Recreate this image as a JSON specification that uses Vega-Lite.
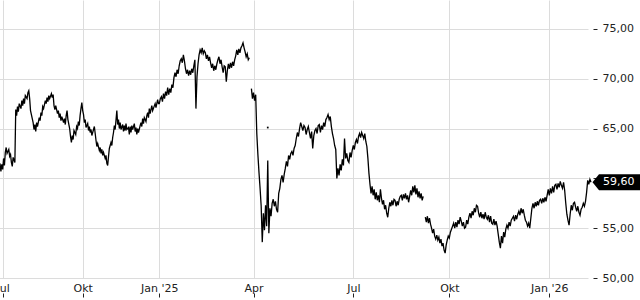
{
  "$schema": "https://vega.github.io/schema/vega-lite/v6.json",
  "width": 588,
  "height": 278,
  "autosize": {"type": "none"},
  "padding": {"left": 0, "top": 0, "right": 52, "bottom": 22},
  "background": "#ffffff",
  "config": {"view": {"stroke": null}},
  "datasets": {
    "p": [
      {"d":"2024-06-28","v":61.5},{"d":"2024-06-29","v":60.7},{"d":"2024-06-30","v":61.4},
      {"d":"2024-07-01","v":60.9},{"d":"2024-07-02","v":62.0},{"d":"2024-07-03","v":61.3},{"d":"2024-07-04","v":62.6},{"d":"2024-07-05","v":63.1},{"d":"2024-07-06","v":62.5},
      {"d":"2024-07-08","v":62.9},{"d":"2024-07-09","v":62.2},{"d":"2024-07-10","v":62.4},{"d":"2024-07-11","v":61.6},{"d":"2024-07-12","v":61.2},{"d":"2024-07-13","v":62.1},
      {"d":"2024-07-15","v":61.6},{"d":"2024-07-16","v":66.9},{"d":"2024-07-17","v":66.3},{"d":"2024-07-18","v":67.2},{"d":"2024-07-19","v":66.7},{"d":"2024-07-20","v":67.5},
      {"d":"2024-07-22","v":67.0},{"d":"2024-07-23","v":67.8},{"d":"2024-07-24","v":67.3},{"d":"2024-07-25","v":68.0},{"d":"2024-07-26","v":67.5},{"d":"2024-07-27","v":68.3},
      {"d":"2024-07-29","v":68.0},{"d":"2024-07-30","v":68.6},{"d":"2024-07-31","v":68.8},{"d":"2024-08-01","v":68.0},{"d":"2024-08-02","v":66.8},{"d":"2024-08-03","v":66.4},
      {"d":"2024-08-05","v":65.6},{"d":"2024-08-06","v":64.9},{"d":"2024-08-07","v":65.4},{"d":"2024-08-08","v":64.7},{"d":"2024-08-09","v":65.6},{"d":"2024-08-10","v":65.2},
      {"d":"2024-08-12","v":66.1},{"d":"2024-08-13","v":65.8},{"d":"2024-08-14","v":66.6},{"d":"2024-08-15","v":66.3},{"d":"2024-08-16","v":67.2},{"d":"2024-08-17","v":67.0},
      {"d":"2024-08-19","v":67.8},{"d":"2024-08-20","v":67.5},{"d":"2024-08-21","v":68.1},{"d":"2024-08-22","v":67.7},{"d":"2024-08-23","v":68.3},{"d":"2024-08-24","v":68.0},
      {"d":"2024-08-26","v":68.5},{"d":"2024-08-27","v":68.1},{"d":"2024-08-28","v":68.4},{"d":"2024-08-29","v":67.3},{"d":"2024-08-30","v":66.9},{"d":"2024-08-31","v":67.3},
      {"d":"2024-09-02","v":66.5},{"d":"2024-09-03","v":66.8},{"d":"2024-09-04","v":66.1},{"d":"2024-09-05","v":66.5},{"d":"2024-09-06","v":65.8},{"d":"2024-09-07","v":66.2},
      {"d":"2024-09-09","v":65.6},{"d":"2024-09-10","v":66.0},{"d":"2024-09-11","v":65.4},{"d":"2024-09-12","v":66.3},{"d":"2024-09-13","v":66.8},{"d":"2024-09-14","v":65.9},
      {"d":"2024-09-16","v":65.0},{"d":"2024-09-17","v":64.2},{"d":"2024-09-18","v":63.6},{"d":"2024-09-19","v":64.3},{"d":"2024-09-20","v":63.9},{"d":"2024-09-21","v":64.8},
      {"d":"2024-09-23","v":64.4},{"d":"2024-09-24","v":65.2},{"d":"2024-09-25","v":65.0},{"d":"2024-09-26","v":65.7},{"d":"2024-09-27","v":65.3},{"d":"2024-09-28","v":66.3},
      {"d":"2024-09-29","v":67.0},{"d":"2024-09-30","v":67.6},
      {"d":"2024-10-01","v":66.8},{"d":"2024-10-02","v":66.4},{"d":"2024-10-03","v":65.6},{"d":"2024-10-04","v":65.9},{"d":"2024-10-05","v":65.1},
      {"d":"2024-10-07","v":65.5},{"d":"2024-10-08","v":64.8},{"d":"2024-10-09","v":65.2},{"d":"2024-10-10","v":64.6},{"d":"2024-10-11","v":64.9},{"d":"2024-10-12","v":64.3},
      {"d":"2024-10-14","v":64.9},{"d":"2024-10-15","v":65.2},{"d":"2024-10-16","v":64.5},{"d":"2024-10-17","v":63.8},{"d":"2024-10-18","v":63.2},{"d":"2024-10-19","v":63.5},
      {"d":"2024-10-21","v":62.8},{"d":"2024-10-22","v":63.1},{"d":"2024-10-23","v":62.5},{"d":"2024-10-24","v":62.9},{"d":"2024-10-25","v":62.3},{"d":"2024-10-26","v":62.6},
      {"d":"2024-10-28","v":62.0},{"d":"2024-10-29","v":62.3},{"d":"2024-10-30","v":61.5},{"d":"2024-10-31","v":61.3},{"d":"2024-11-01","v":62.2},{"d":"2024-11-02","v":63.0},
      {"d":"2024-11-04","v":63.6},{"d":"2024-11-05","v":63.3},{"d":"2024-11-06","v":64.1},{"d":"2024-11-07","v":64.6},{"d":"2024-11-08","v":65.3},{"d":"2024-11-09","v":64.9},
      {"d":"2024-11-11","v":66.8},{"d":"2024-11-12","v":65.4},{"d":"2024-11-13","v":65.9},{"d":"2024-11-14","v":65.0},{"d":"2024-11-15","v":65.6},{"d":"2024-11-16","v":64.9},
      {"d":"2024-11-18","v":65.4},{"d":"2024-11-19","v":64.7},{"d":"2024-11-20","v":65.3},{"d":"2024-11-21","v":64.8},{"d":"2024-11-22","v":65.5},{"d":"2024-11-23","v":64.9},
      {"d":"2024-11-25","v":65.1},{"d":"2024-11-26","v":64.4},{"d":"2024-11-27","v":65.2},{"d":"2024-11-28","v":64.6},{"d":"2024-11-29","v":65.3},{"d":"2024-11-30","v":64.9},
      {"d":"2024-12-02","v":65.5},{"d":"2024-12-03","v":64.7},{"d":"2024-12-04","v":65.1},{"d":"2024-12-05","v":64.4},{"d":"2024-12-06","v":65.0},{"d":"2024-12-07","v":64.6},
      {"d":"2024-12-09","v":65.3},{"d":"2024-12-10","v":65.6},{"d":"2024-12-11","v":65.2},{"d":"2024-12-12","v":66.0},{"d":"2024-12-13","v":65.5},{"d":"2024-12-14","v":66.1},
      {"d":"2024-12-16","v":65.7},{"d":"2024-12-17","v":66.3},{"d":"2024-12-18","v":66.6},{"d":"2024-12-19","v":66.1},{"d":"2024-12-20","v":67.0},{"d":"2024-12-21","v":66.5},
      {"d":"2024-12-23","v":67.3},{"d":"2024-12-24","v":66.8},{"d":"2024-12-27","v":67.5},{"d":"2024-12-28","v":67.1},{"d":"2024-12-30","v":67.9},{"d":"2024-12-31","v":67.5},
      {"d":"2025-01-01","v":67.5},{"d":"2025-01-02","v":68.0},{"d":"2025-01-03","v":68.2},{"d":"2025-01-04","v":67.7},{"d":"2025-01-05","v":68.5},{"d":"2025-01-06","v":68.0},
      {"d":"2025-01-07","v":68.7},{"d":"2025-01-08","v":68.3},{"d":"2025-01-09","v":69.1},{"d":"2025-01-10","v":68.4},{"d":"2025-01-11","v":69.0},{"d":"2025-01-12","v":68.6},
      {"d":"2025-01-13","v":69.4},{"d":"2025-01-14","v":69.1},{"d":"2025-01-15","v":70.1},{"d":"2025-01-16","v":70.6},{"d":"2025-01-17","v":70.2},{"d":"2025-01-18","v":70.9},
      {"d":"2025-01-19","v":70.5},{"d":"2025-01-20","v":71.3},{"d":"2025-01-21","v":71.8},{"d":"2025-01-22","v":72.0},{"d":"2025-01-23","v":71.6},{"d":"2025-01-24","v":72.4},
      {"d":"2025-01-25","v":71.8},{"d":"2025-01-26","v":71.0},{"d":"2025-01-27","v":70.5},{"d":"2025-01-28","v":70.9},{"d":"2025-01-29","v":70.3},{"d":"2025-01-30","v":70.8},
      {"d":"2025-01-31","v":70.4},{"d":"2025-02-01","v":71.0},{"d":"2025-02-02","v":70.6},{"d":"2025-02-03","v":71.3},{"d":"2025-02-04","v":71.9},{"d":"2025-02-05","v":67.0},
      {"d":"2025-02-06","v":70.2},{"d":"2025-02-07","v":71.5},{"d":"2025-02-08","v":72.4},{"d":"2025-02-09","v":72.9},{"d":"2025-02-10","v":72.6},{"d":"2025-02-11","v":73.1},
      {"d":"2025-02-12","v":72.5},{"d":"2025-02-13","v":72.8},{"d":"2025-02-14","v":72.6},{"d":"2025-02-15","v":72.0},{"d":"2025-02-16","v":72.4},{"d":"2025-02-17","v":71.8},
      {"d":"2025-02-18","v":72.2},{"d":"2025-02-19","v":71.6},{"d":"2025-02-20","v":71.1},{"d":"2025-02-21","v":71.5},{"d":"2025-02-22","v":70.8},{"d":"2025-02-23","v":71.3},
      {"d":"2025-02-24","v":70.9},{"d":"2025-02-25","v":71.5},{"d":"2025-02-26","v":71.9},{"d":"2025-02-27","v":72.2},{"d":"2025-02-28","v":71.5},{"d":"2025-03-01","v":71.9},
      {"d":"2025-03-02","v":71.2},{"d":"2025-03-03","v":70.6},{"d":"2025-03-04","v":71.3},{"d":"2025-03-05","v":71.2},{"d":"2025-03-06","v":69.7},{"d":"2025-03-07","v":70.8},
      {"d":"2025-03-08","v":71.5},{"d":"2025-03-09","v":71.0},{"d":"2025-03-10","v":71.6},{"d":"2025-03-11","v":71.1},{"d":"2025-03-12","v":71.7},{"d":"2025-03-13","v":71.3},
      {"d":"2025-03-14","v":71.9},{"d":"2025-03-15","v":72.3},{"d":"2025-03-16","v":72.9},{"d":"2025-03-17","v":72.4},{"d":"2025-03-18","v":73.0},{"d":"2025-03-19","v":72.6},
      {"d":"2025-03-20","v":73.1},{"d":"2025-03-21","v":73.3},{"d":"2025-03-22","v":73.6},{"d":"2025-03-23","v":73.1},{"d":"2025-03-24","v":72.7},{"d":"2025-03-25","v":72.2},
      {"d":"2025-03-26","v":72.5},{"d":"2025-03-27","v":71.9},{"d":"2025-03-28","v":72.1},{"d":"2025-03-29","v":null},{"d":"2025-03-30","v":69.0},{"d":"2025-03-31","v":68.0},
      {"d":"2025-04-01","v":68.6},{"d":"2025-04-02","v":67.8},{"d":"2025-04-03","v":68.4},{"d":"2025-04-04","v":64.5},{"d":"2025-04-05","v":62.4},{"d":"2025-04-06","v":60.6},
      {"d":"2025-04-07","v":59.0},{"d":"2025-04-08","v":57.2},{"d":"2025-04-09","v":53.6},{"d":"2025-04-10","v":56.5},{"d":"2025-04-11","v":54.8},{"d":"2025-04-12","v":57.3},
      {"d":"2025-04-13","v":55.2},{"d":"2025-04-14","v":61.8},{"d":"2025-04-15","v":54.5},{"d":"2025-04-16","v":57.0},{"d":"2025-04-17","v":56.2},{"d":"2025-04-18","v":57.5},
      {"d":"2025-04-19","v":57.9},{"d":"2025-04-20","v":57.2},{"d":"2025-04-21","v":57.7},{"d":"2025-04-22","v":56.9},{"d":"2025-04-23","v":56.6},{"d":"2025-04-24","v":58.5},
      {"d":"2025-04-25","v":59.0},{"d":"2025-04-26","v":59.9},{"d":"2025-04-27","v":60.3},{"d":"2025-04-28","v":59.6},{"d":"2025-04-29","v":60.4},{"d":"2025-04-30","v":61.0},
      {"d":"2025-05-01","v":61.7},{"d":"2025-05-02","v":61.2},{"d":"2025-05-03","v":62.3},{"d":"2025-05-04","v":61.9},{"d":"2025-05-05","v":62.5},{"d":"2025-05-06","v":62.7},
      {"d":"2025-05-07","v":62.3},{"d":"2025-05-08","v":63.0},{"d":"2025-05-09","v":63.3},{"d":"2025-05-10","v":64.0},{"d":"2025-05-11","v":64.6},{"d":"2025-05-12","v":64.2},
      {"d":"2025-05-13","v":65.0},{"d":"2025-05-14","v":65.6},{"d":"2025-05-15","v":65.2},{"d":"2025-05-16","v":64.8},{"d":"2025-05-17","v":65.3},{"d":"2025-05-18","v":65.1},
      {"d":"2025-05-19","v":64.4},{"d":"2025-05-20","v":64.9},{"d":"2025-05-21","v":65.2},{"d":"2025-05-22","v":64.6},{"d":"2025-05-23","v":64.0},{"d":"2025-05-24","v":64.7},
      {"d":"2025-05-25","v":63.0},{"d":"2025-05-26","v":64.3},{"d":"2025-05-27","v":64.8},{"d":"2025-05-28","v":65.0},{"d":"2025-05-29","v":64.5},{"d":"2025-05-30","v":65.3},
      {"d":"2025-05-31","v":65.4},{"d":"2025-06-01","v":64.6},{"d":"2025-06-02","v":65.3},{"d":"2025-06-03","v":64.9},{"d":"2025-06-04","v":65.6},{"d":"2025-06-05","v":65.2},
      {"d":"2025-06-06","v":65.9},{"d":"2025-06-07","v":66.1},{"d":"2025-06-08","v":66.4},{"d":"2025-06-09","v":65.9},{"d":"2025-06-10","v":66.2},{"d":"2025-06-11","v":65.2},
      {"d":"2025-06-12","v":64.5},{"d":"2025-06-13","v":64.0},{"d":"2025-06-14","v":63.3},{"d":"2025-06-15","v":62.9},{"d":"2025-06-16","v":60.0},{"d":"2025-06-17","v":61.0},
      {"d":"2025-06-18","v":60.3},{"d":"2025-06-19","v":61.4},{"d":"2025-06-20","v":60.8},{"d":"2025-06-21","v":61.9},{"d":"2025-06-22","v":61.3},{"d":"2025-06-23","v":64.0},
      {"d":"2025-06-24","v":62.0},{"d":"2025-06-25","v":62.5},{"d":"2025-06-26","v":61.8},{"d":"2025-06-27","v":61.6},{"d":"2025-06-28","v":62.6},{"d":"2025-06-29","v":62.1},
      {"d":"2025-06-30","v":62.8},
      {"d":"2025-07-01","v":63.3},{"d":"2025-07-02","v":62.9},{"d":"2025-07-03","v":63.6},{"d":"2025-07-04","v":63.9},{"d":"2025-07-05","v":63.5},{"d":"2025-07-06","v":64.2},
      {"d":"2025-07-07","v":64.5},{"d":"2025-07-08","v":64.1},{"d":"2025-07-09","v":64.6},{"d":"2025-07-10","v":64.3},{"d":"2025-07-11","v":64.0},{"d":"2025-07-12","v":64.5},
      {"d":"2025-07-13","v":63.7},{"d":"2025-07-14","v":63.2},{"d":"2025-07-15","v":62.0},{"d":"2025-07-16","v":60.5},{"d":"2025-07-17","v":59.4},{"d":"2025-07-18","v":58.5},
      {"d":"2025-07-19","v":59.2},{"d":"2025-07-20","v":58.3},{"d":"2025-07-21","v":58.9},{"d":"2025-07-22","v":57.9},{"d":"2025-07-23","v":58.6},{"d":"2025-07-24","v":57.8},
      {"d":"2025-07-25","v":58.3},{"d":"2025-07-26","v":57.6},{"d":"2025-07-27","v":58.9},{"d":"2025-07-28","v":58.0},{"d":"2025-07-29","v":57.4},{"d":"2025-07-30","v":57.8},
      {"d":"2025-07-31","v":56.9},{"d":"2025-08-01","v":57.3},{"d":"2025-08-02","v":56.5},{"d":"2025-08-03","v":56.1},{"d":"2025-08-04","v":57.0},{"d":"2025-08-05","v":57.6},
      {"d":"2025-08-06","v":57.2},{"d":"2025-08-07","v":57.8},{"d":"2025-08-08","v":57.3},{"d":"2025-08-09","v":57.9},{"d":"2025-08-10","v":57.8},{"d":"2025-08-11","v":57.2},
      {"d":"2025-08-12","v":57.7},{"d":"2025-08-13","v":57.3},{"d":"2025-08-14","v":57.9},{"d":"2025-08-15","v":58.2},{"d":"2025-08-16","v":58.3},{"d":"2025-08-17","v":57.8},
      {"d":"2025-08-18","v":58.4},{"d":"2025-08-19","v":58.0},{"d":"2025-08-20","v":58.5},{"d":"2025-08-21","v":57.9},{"d":"2025-08-22","v":58.3},{"d":"2025-08-23","v":57.6},
      {"d":"2025-08-24","v":58.2},{"d":"2025-08-25","v":58.8},{"d":"2025-08-26","v":58.3},{"d":"2025-08-27","v":59.2},{"d":"2025-08-28","v":58.6},{"d":"2025-08-29","v":59.3},
      {"d":"2025-08-30","v":58.4},{"d":"2025-08-31","v":59.0},{"d":"2025-09-01","v":58.1},{"d":"2025-09-02","v":58.7},{"d":"2025-09-03","v":58.0},{"d":"2025-09-04","v":58.5},
      {"d":"2025-09-05","v":57.8},{"d":"2025-09-06","v":58.2},{"d":"2025-09-07","v":null},{"d":"2025-09-08","v":56.1},{"d":"2025-09-09","v":55.6},{"d":"2025-09-10","v":56.2},
      {"d":"2025-09-11","v":55.5},{"d":"2025-09-12","v":56.0},{"d":"2025-09-13","v":55.4},{"d":"2025-09-14","v":55.0},{"d":"2025-09-15","v":54.5},{"d":"2025-09-16","v":54.9},
      {"d":"2025-09-17","v":54.2},{"d":"2025-09-18","v":53.9},{"d":"2025-09-19","v":54.3},{"d":"2025-09-20","v":53.8},{"d":"2025-09-21","v":54.1},{"d":"2025-09-22","v":53.5},
      {"d":"2025-09-23","v":53.9},{"d":"2025-09-24","v":53.2},{"d":"2025-09-25","v":53.5},{"d":"2025-09-26","v":52.8},{"d":"2025-09-27","v":52.5},{"d":"2025-09-28","v":53.3},
      {"d":"2025-09-29","v":53.8},{"d":"2025-09-30","v":54.2},
      {"d":"2025-10-01","v":54.0},{"d":"2025-10-02","v":54.6},{"d":"2025-10-03","v":54.9},{"d":"2025-10-04","v":55.2},{"d":"2025-10-05","v":55.5},{"d":"2025-10-06","v":55.0},
      {"d":"2025-10-07","v":55.6},{"d":"2025-10-08","v":55.1},{"d":"2025-10-09","v":55.8},{"d":"2025-10-10","v":55.4},{"d":"2025-10-11","v":56.1},{"d":"2025-10-12","v":55.7},
      {"d":"2025-10-13","v":55.2},{"d":"2025-10-14","v":55.6},{"d":"2025-10-15","v":55.0},{"d":"2025-10-16","v":55.1},{"d":"2025-10-17","v":55.8},{"d":"2025-10-18","v":55.4},
      {"d":"2025-10-19","v":56.1},{"d":"2025-10-20","v":56.5},{"d":"2025-10-21","v":56.0},{"d":"2025-10-22","v":56.7},{"d":"2025-10-23","v":56.3},{"d":"2025-10-24","v":57.0},
      {"d":"2025-10-25","v":56.6},{"d":"2025-10-26","v":57.3},{"d":"2025-10-27","v":57.2},{"d":"2025-10-28","v":56.5},{"d":"2025-10-29","v":56.1},{"d":"2025-10-30","v":56.6},
      {"d":"2025-10-31","v":56.0},{"d":"2025-11-01","v":56.4},{"d":"2025-11-02","v":55.9},{"d":"2025-11-03","v":56.6},{"d":"2025-11-04","v":56.1},{"d":"2025-11-05","v":55.9},
      {"d":"2025-11-06","v":56.3},{"d":"2025-11-07","v":55.6},{"d":"2025-11-08","v":56.2},{"d":"2025-11-09","v":55.5},{"d":"2025-11-10","v":55.4},{"d":"2025-11-11","v":55.9},
      {"d":"2025-11-12","v":55.3},{"d":"2025-11-13","v":55.7},{"d":"2025-11-14","v":55.2},{"d":"2025-11-15","v":54.4},{"d":"2025-11-16","v":53.6},{"d":"2025-11-17","v":53.0},
      {"d":"2025-11-18","v":54.2},{"d":"2025-11-19","v":53.5},{"d":"2025-11-20","v":54.6},{"d":"2025-11-21","v":54.1},{"d":"2025-11-22","v":54.9},{"d":"2025-11-23","v":55.3},
      {"d":"2025-11-24","v":55.0},{"d":"2025-11-25","v":55.6},{"d":"2025-11-26","v":55.2},{"d":"2025-11-27","v":55.8},{"d":"2025-11-28","v":56.0},{"d":"2025-11-29","v":56.2},
      {"d":"2025-11-30","v":55.7},{"d":"2025-12-01","v":56.3},{"d":"2025-12-02","v":55.9},{"d":"2025-12-03","v":56.4},{"d":"2025-12-04","v":56.7},{"d":"2025-12-05","v":56.3},
      {"d":"2025-12-06","v":57.0},{"d":"2025-12-07","v":56.5},{"d":"2025-12-08","v":56.9},{"d":"2025-12-09","v":56.3},{"d":"2025-12-10","v":55.8},{"d":"2025-12-11","v":55.6},
      {"d":"2025-12-12","v":55.2},{"d":"2025-12-13","v":55.5},{"d":"2025-12-14","v":55.0},{"d":"2025-12-15","v":56.0},{"d":"2025-12-16","v":57.0},{"d":"2025-12-17","v":57.5},
      {"d":"2025-12-18","v":57.0},{"d":"2025-12-19","v":57.6},{"d":"2025-12-20","v":57.2},{"d":"2025-12-21","v":57.7},{"d":"2025-12-22","v":57.3},{"d":"2025-12-23","v":57.8},
      {"d":"2025-12-24","v":57.9},{"d":"2025-12-25","v":57.5},{"d":"2025-12-26","v":58.0},{"d":"2025-12-27","v":57.6},{"d":"2025-12-28","v":58.1},{"d":"2025-12-29","v":57.7},
      {"d":"2025-12-30","v":58.3},{"d":"2025-12-31","v":58.9},
      {"d":"2026-01-01","v":58.3},{"d":"2026-01-02","v":59.0},{"d":"2026-01-03","v":58.5},{"d":"2026-01-04","v":59.2},{"d":"2026-01-05","v":58.6},{"d":"2026-01-06","v":59.3},
      {"d":"2026-01-07","v":59.4},{"d":"2026-01-08","v":58.9},{"d":"2026-01-09","v":59.5},{"d":"2026-01-10","v":59.1},{"d":"2026-01-11","v":59.7},{"d":"2026-01-12","v":59.3},
      {"d":"2026-01-13","v":59.0},{"d":"2026-01-14","v":59.6},{"d":"2026-01-15","v":58.8},{"d":"2026-01-16","v":57.5},{"d":"2026-01-17","v":56.4},{"d":"2026-01-18","v":55.8},
      {"d":"2026-01-19","v":55.3},{"d":"2026-01-20","v":56.4},{"d":"2026-01-21","v":57.3},{"d":"2026-01-22","v":56.8},{"d":"2026-01-23","v":57.5},{"d":"2026-01-24","v":57.6},
      {"d":"2026-01-25","v":57.1},{"d":"2026-01-26","v":56.7},{"d":"2026-01-27","v":57.2},{"d":"2026-01-28","v":56.6},{"d":"2026-01-29","v":56.3},{"d":"2026-01-30","v":56.9},
      {"d":"2026-01-31","v":57.1},{"d":"2026-02-01","v":57.5},{"d":"2026-02-02","v":57.2},{"d":"2026-02-03","v":57.7},{"d":"2026-02-04","v":58.6},{"d":"2026-02-05","v":59.8},
      {"d":"2026-02-06","v":59.4},{"d":"2026-02-07","v":59.9},{"d":"2026-02-08","v":59.6}
    ],
    "dot": [{"d":"2025-04-14","v":65.1}],
    "last": [{"d":"2026-02-08","v":59.6,"label":"59,60"}]
  },
  "encoding": {
    "x": {
      "field": "d",
      "type": "temporal",
      "scale": {
        "type": "utc",
        "nice": false,
        "domain": {"expr": "[utc(2024,5,28), utc(2024,6,1), utc(2024,9,1), utc(2025,0,1), utc(2025,3,1), utc(2025,6,1), utc(2025,9,1), utc(2026,0,1), utc(2026,1,8)]"},
        "range": [0, 2.7, 82.7, 159.3, 253.5, 353.3, 449.3, 549.3, 591]
      },
      "axis": {
        "orient": "bottom",
        "title": null,
        "values": [
          {"year":2024,"month":7,"date":1,"utc":true},
          {"year":2024,"month":10,"date":1,"utc":true},
          {"year":2025,"month":1,"date":1,"utc":true},
          {"year":2025,"month":4,"date":1,"utc":true},
          {"year":2025,"month":7,"date":1,"utc":true},
          {"year":2025,"month":10,"date":1,"utc":true},
          {"year":2026,"month":1,"date":1,"utc":true}
        ],
        "labelExpr": "utcmonth(datum.value) == 0 ? \"Jan '\" + utcFormat(datum.value, '%y') : utcmonth(datum.value) == 3 ? 'Apr' : utcmonth(datum.value) == 6 ? 'Jul' : 'Okt'",
        "domain": false,
        "offset": 15,
        "tickSize": 4,
        "tickColor": "#222222",
        "labelPadding": -15,
        "labelBaseline": "top",
        "labelFont": "DejaVu Sans",
        "labelFontSize": 11,
        "labelColor": "#222222",
        "labelOverlap": false,
        "labelBound": false,
        "labelFlush": false,
        "grid": true,
        "gridColor": "#dcdcdc",
        "gridWidth": 1
      }
    },
    "y": {
      "field": "v",
      "type": "quantitative",
      "scale": {"domain": [50, 77.9], "nice": false, "zero": false},
      "axis": {
        "orient": "right",
        "title": null,
        "values": [50, 55, 60, 65, 70, 75],
        "labelExpr": "datum.value == 60 ? '' : replace(format(datum.value, '.2f'), '.', ',')",
        "domain": false,
        "offset": 5,
        "tickSize": 4,
        "tickColor": "#222222",
        "labelPadding": 5,
        "labelFont": "DejaVu Sans",
        "labelFontSize": 11,
        "labelColor": "#222222",
        "grid": true,
        "gridColor": "#dcdcdc",
        "gridWidth": 1
      }
    }
  },
  "layer": [
    {
      "data": {"name": "p"},
      "mark": {"type": "line", "color": "#000000", "strokeWidth": 1.3, "invalid": "break-paths-filter-domains"}
    },
    {
      "data": {"name": "dot"},
      "mark": {"type": "point", "shape": "square", "filled": true, "size": 3, "color": "#000000", "opacity": 1}
    },
    {
      "data": {"name": "last"},
      "mark": {"type": "point", "shape": "M0.15,0L0.8,-0.8L5.2,-0.8L5.2,0.8L0.8,0.8Z", "filled": true, "size": 400, "color": "#000000", "opacity": 1, "strokeWidth": 0}
    },
    {
      "data": {"name": "last"},
      "mark": {"type": "text", "align": "left", "baseline": "middle", "dx": 12, "color": "#ffffff", "font": "DejaVu Sans", "fontSize": 11},
      "encoding": {"text": {"field": "label"}}
    }
  ]
}
